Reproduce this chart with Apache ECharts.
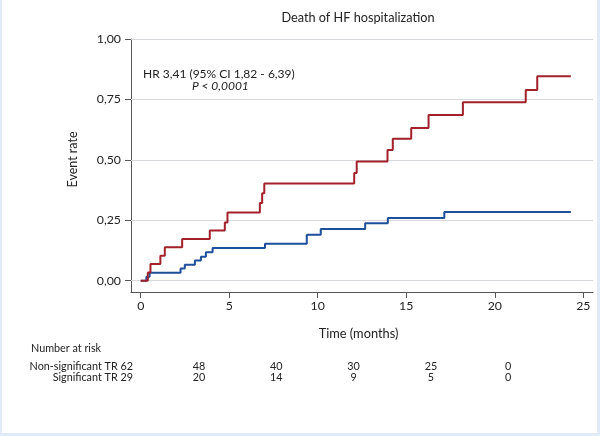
<!DOCTYPE html>
<html>
<head>
<meta charset="utf-8">
<script src="https://cdn.jsdelivr.net/npm/echarts@6/dist/echarts.min.js"></script>
<style>
html,body{margin:0;padding:0;background:#fff;}
#wrap{position:relative;width:600px;height:436px;overflow:hidden;}
#chart{width:600px;height:436px;}
#frame{position:absolute;left:0;top:0;width:600px;height:436px;box-sizing:border-box;border-left:2px solid #e1eaf7;border-right:3px solid #e1eaf7;border-bottom:3px solid #e1eaf7;pointer-events:none;}
</style>
</head>
<body>
<div id="wrap"><div id="chart"></div><div id="frame"></div></div>
<script>
// ---- data ----
const titleText = 'Death of HF hospitalization';
const xTicks = [0, 5, 10, 15, 20, 25];
const yTicks = [0, 0.25, 0.5, 0.75, 1.0];

// Significant TR (red)
const sigTime = [0, 0.4, 0.55, 1.11, 1.36, 2.34, 3.9, 4.75, 4.9, 6.73, 6.86, 6.98, 12.06, 12.2, 13.94, 14.24, 15.28, 16.26, 18.2, 21.75, 22.4, 24.3];
const sigRate = [0, 0.034, 0.069, 0.103, 0.138, 0.172, 0.207, 0.241, 0.282, 0.321, 0.362, 0.402, 0.445, 0.493, 0.541, 0.587, 0.632, 0.685, 0.738, 0.789, 0.846, 0.846];

// Non-significant TR (blue)
const nonTime = [0, 0.32, 0.5, 2.25, 2.49, 3.06, 3.4, 3.68, 4.06, 7.02, 9.38, 10.17, 12.68, 13.96, 17.15, 24.3];
const nonRate = [0, 0.016, 0.033, 0.050, 0.066, 0.083, 0.099, 0.117, 0.135, 0.153, 0.190, 0.214, 0.237, 0.259, 0.284, 0.284];

const hrText = 'HR 3,41 (95% CI 1,82 - 6,39)';
const pText = 'P < 0,0001';

const riskTitle = 'Number at risk';
const groupNames = ['Non-significant TR', 'Significant TR'];
const groupStart = [62, 29];
const riskNon = [48, 40, 30, 25, 0];
const riskSig = [20, 14, 9, 5, 0];

// ---- chart ----
const FONT = 'Lato';
const RED = '#a3212b';
const BLUE = '#1d4f9b';
const AXIS = '#555555';
const TXT = '#222222';

function zip(a, b) { return a.map((v, i) => [v, b[i]]); }
function fmtY(v) { return v.toFixed(2).replace('.', ','); }

const chart = echarts.init(document.getElementById('chart'), null, {renderer: 'canvas'});

const RF = '10.8px ' + FONT;
const riskGraphics = [];
riskGraphics.push({type: 'text', left: 31, top: 343, style: {text: riskTitle, font: RF, fill: TXT}});
const rowY = [361, 372.5];
const rows = [riskNon, riskSig];
groupNames.forEach((g, r) => {
  riskGraphics.push({type: 'text', x: 133, y: rowY[r], style: {text: g + ' ' + groupStart[r], font: RF, fill: TXT, textAlign: 'right'}});
  rows[r].forEach((n, i) => {
    riskGraphics.push({type: 'text', x: 199 + i * 77.3, y: rowY[r], style: {text: String(n), font: RF, fill: TXT, textAlign: 'center'}});
  });
});

const option = {
  animation: false,
  backgroundColor: '#ffffff',
  textStyle: {fontFamily: FONT},
  title: {
    text: titleText, left: 353, top: 6, textAlign: 'center',
    textStyle: {fontFamily: FONT, fontSize: 12.7, fontWeight: 'normal', color: TXT}
  },
  grid: {left: 131, right: 7, top: 39, bottom: 144, containLabel: false},
  xAxis: {
    type: 'value', min: -0.55, max: 25.55,
    name: 'Time (months)', nameLocation: 'middle', nameGap: 35,
    nameTextStyle: {fontFamily: FONT, fontSize: 12.8, color: TXT, padding: [0, 7, 0, 0]},
    axisLine: {show: true, onZero: false, lineStyle: {color: AXIS, width: 1}},
    axisTick: {show: true, customValues: xTicks, length: 6, lineStyle: {color: AXIS}},
    axisLabel: {customValues: xTicks, fontFamily: FONT, fontSize: 12.3, color: TXT, margin: 8},
    splitLine: {show: false}
  },
  yAxis: {
    type: 'value', min: -0.047, max: 1.0,
    name: 'Event rate', nameLocation: 'middle', nameGap: 52, nameRotate: 90,
    nameTextStyle: {fontFamily: FONT, fontSize: 12.5, color: TXT, padding: [0, 0, 0, 12]},
    axisLine: {show: true, onZero: false, lineStyle: {color: AXIS, width: 1}},
    axisTick: {show: true, customValues: yTicks, length: 6, lineStyle: {color: AXIS}},
    axisLabel: {customValues: yTicks, fontFamily: FONT, fontSize: 12.3, color: TXT, margin: 10, formatter: fmtY},
    splitLine: {show: false}
  },
  graphic: [
    {type: 'text', left: 143, top: 68, style: {text: hrText, font: '12px ' + FONT, fill: TXT}},
    {type: 'text', left: 192, top: 80, style: {text: pText, font: 'italic 12px ' + FONT, fill: TXT}}
  ].concat(riskGraphics),
  series: [
    {
      name: groupNames[0], type: 'line', step: 'end', symbol: 'none', z: 3,
      data: zip(nonTime, nonRate),
      lineStyle: {color: BLUE, width: 2},
      markLine: {
        silent: true, symbol: 'none', label: {show: false}, animation: false, z: 1,
        lineStyle: {color: '#d8d8dc', width: 1, type: 'solid', opacity: 1},
        data: yTicks.map(v => ({yAxis: v}))
      }
    },
    {
      name: groupNames[1], type: 'line', step: 'end', symbol: 'none', z: 4,
      data: zip(sigTime, sigRate),
      lineStyle: {color: RED, width: 2}
    }
  ]
};
chart.setOption(option);
</script>
</body>
</html>
